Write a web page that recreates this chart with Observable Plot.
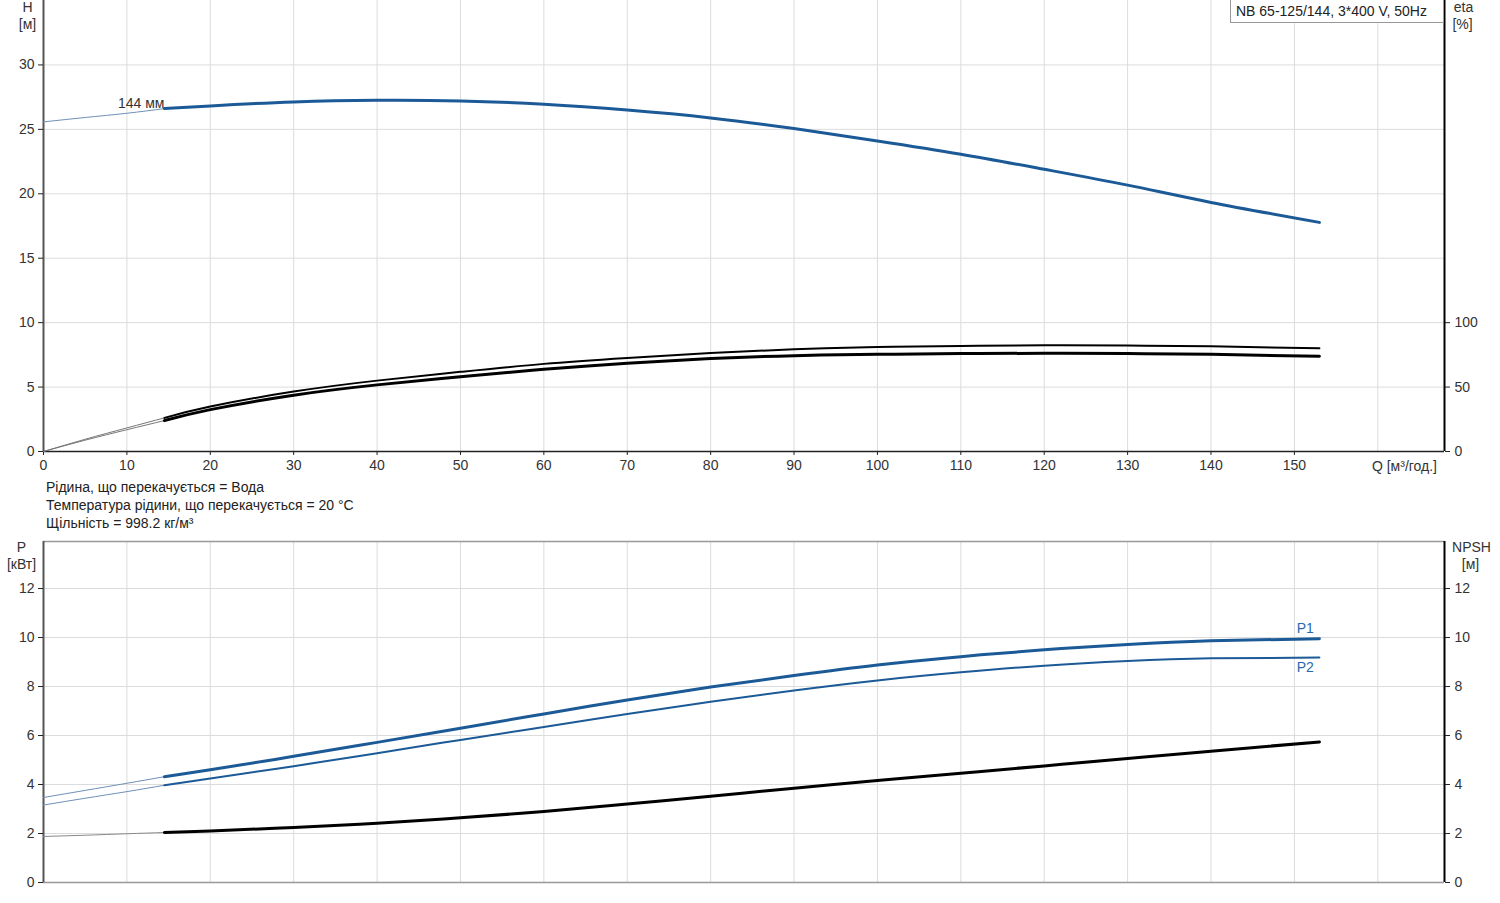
<!DOCTYPE html>
<html><head><meta charset="utf-8">
<script src="https://cdn.jsdelivr.net/npm/d3@7"></script>
<script src="https://cdn.jsdelivr.net/npm/@observablehq/plot@0.6"></script>
<style>
body{margin:0;background:#fff;font-family:"Liberation Sans",Arial,sans-serif;}
#wrap{position:relative;width:1500px;height:903px;overflow:hidden;}
#wrap svg{display:block;}
#info{height:57px;padding-left:46px;font-size:14px;line-height:18px;color:#222;}
#title{position:absolute;left:1230px;top:-1px;width:207px;height:22px;border:1px solid #999;background:#fff;font-size:14px;line-height:22px;padding-left:5px;color:#222;white-space:nowrap;}
</style></head><body><div id="wrap"></div>
<script>
// ---- data ----
const qThin = [0, 5, 10, 14.5];
const qThick = [14.5, 20, 30, 40, 50, 60, 70, 80, 90, 100, 110, 120, 130, 140, 153];
const hThin = [25.58, 25.92, 26.25, 26.61];
const hThick = [26.61, 26.82, 27.13, 27.26, 27.21, 26.95, 26.5, 25.89, 25.06, 24.1, 23.07, 21.9, 20.67, 19.33, 17.78];
const etaPumpThin = [0, 9.5, 18.3, 26.1];
const etaPumpThick = [26.1, 34.9, 46.5, 55, 61.8, 68, 72.6, 76.5, 79.3, 81.1, 81.9, 82.4, 82.2, 81.6, 80.1];
const etaTotalThin = [0, 8.8, 16.9, 24.0];
const etaTotalThick = [24.0, 32.5, 43.7, 51.7, 58.1, 63.8, 68.5, 72.1, 74.4, 75.4, 76, 76.2, 76, 75.4, 73.9];
const p1Thin = [3.47, 3.76, 4.05, 4.32];
const p1Thick = [4.32, 4.6, 5.15, 5.72, 6.3, 6.88, 7.45, 7.98, 8.45, 8.88, 9.22, 9.5, 9.72, 9.87, 9.95];
const p2Thin = [3.16, 3.44, 3.71, 3.97];
const p2Thick = [3.97, 4.25, 4.75, 5.28, 5.82, 6.35, 6.88, 7.38, 7.84, 8.25, 8.58, 8.85, 9.04, 9.15, 9.18];
const npshThin = [1.88, 1.93, 1.99, 2.04];
const npshThick = [2.04, 2.1, 2.25, 2.42, 2.64, 2.9, 3.2, 3.52, 3.85, 4.16, 4.46, 4.76, 5.06, 5.36, 5.74];
const xTicks = [0, 10, 20, 30, 40, 50, 60, 70, 80, 90, 100, 110, 120, 130, 140, 150];
const xGrid = [0, 10, 20, 30, 40, 50, 60, 70, 80, 90, 100, 110, 120, 130, 140, 150, 160];
const hTicks = [0, 5, 10, 15, 20, 25, 30];
const etaTicks = [0, 50, 100];
const pTicks = [0, 2, 4, 6, 8, 10, 12];
const xLabel = "Q [м³/год.]";
const curveLabel = "144 мм";
const titleText = "NB 65-125/144, 3*400 V, 50Hz";
const infoLines = ["Рідина, що перекачується = Вода", "Температура рідини, що перекачується = 20 °C", "Щільність = 998.2 кг/м³"];

const pts = (xs, ys) => xs.map((x, i) => ({x, y: ys[i]}));
const BLUE = "#1b5a96";
const font = {fontFamily: '"Liberation Sans", Arial, sans-serif', fontSize: "14px", color: "#333", background: "transparent", overflow: "visible"};
const X = [0, 168];

const topPlot = Plot.plot({
  width: 1500, height: 478, marginLeft: 43, marginRight: 56, marginTop: 0, marginBottom: 27,
  style: font,
  x: {domain: X, label: null}, y: {domain: [0, 35], label: null},
  marks: [
    Plot.gridX(xGrid, {stroke: "#dcdcdc", strokeOpacity: 1}),
    Plot.gridY(hTicks, {stroke: "#dcdcdc", strokeOpacity: 1}),
    Plot.ruleX([0], {stroke: "#555", strokeWidth: 2}),
    Plot.ruleX([168], {stroke: "#000", strokeWidth: 2}),
    Plot.ruleY([0], {stroke: "#222", strokeWidth: 1.5}),
    Plot.axisX(xTicks, {tickSize: 4, tickPadding: 5, stroke: "#222", label: null}),
    Plot.axisY(hTicks, {anchor: "left", tickSize: 5, tickPadding: 4, stroke: "#222", label: null}),
    Plot.axisY(etaTicks.map(d => d / 10), {anchor: "right", tickSize: 5, tickPadding: 5, stroke: "#222", tickFormat: d => Math.round(d * 10), label: null}),
    Plot.text([xLabel], {x: 163.2, frameAnchor: "bottom", dy: 15, textAnchor: "middle", lineAnchor: "middle", fill: "#333"}),
    Plot.text(["H"], {frameAnchor: "top-left", dx: -16, dy: 7, textAnchor: "middle", lineAnchor: "middle", fill: "#333"}),
    Plot.text(["[м]"], {frameAnchor: "top-left", dx: -16, dy: 24, textAnchor: "middle", lineAnchor: "middle", fill: "#333"}),
    Plot.text(["eta"], {frameAnchor: "top-right", dx: 19, dy: 7, textAnchor: "middle", lineAnchor: "middle", fill: "#333"}),
    Plot.text(["[%]"], {frameAnchor: "top-right", dx: 18, dy: 24, textAnchor: "middle", lineAnchor: "middle", fill: "#333"}),
    // H curve
    Plot.line(pts(qThin, hThin), {x: "x", y: "y", stroke: "#6f90b8", strokeWidth: 1, curve: "natural"}),
    Plot.line(pts(qThick, hThick), {x: "x", y: "y", stroke: BLUE, strokeWidth: 3, curve: "natural"}),
    Plot.text([{x: qThick[0], y: hThick[0]}], {x: "x", y: "y", text: () => curveLabel, textAnchor: "end", lineAnchor: "bottom", dx: 0, dy: -1, fill: "#333"}),
    // eta curves (scaled to H axis: eta/10)
    Plot.line(pts(qThin, etaPumpThin.map(d => d / 10)), {x: "x", y: "y", stroke: "#777", strokeWidth: 1, curve: "natural"}),
    Plot.line(pts(qThin, etaTotalThin.map(d => d / 10)), {x: "x", y: "y", stroke: "#777", strokeWidth: 1, curve: "natural"}),
    Plot.line(pts(qThick, etaPumpThick.map(d => d / 10)), {x: "x", y: "y", stroke: "#000", strokeWidth: 2, curve: "natural"}),
    Plot.line(pts(qThick, etaTotalThick.map(d => d / 10)), {x: "x", y: "y", stroke: "#000", strokeWidth: 3, curve: "natural"})
  ]
});

const PTOP = 13.92;
const bottomPlot = Plot.plot({
  width: 1500, height: 368, marginLeft: 43, marginRight: 56, marginTop: 6, marginBottom: 21,
  style: font,
  x: {domain: X, axis: null}, y: {domain: [0, PTOP], label: null},
  marks: [
    Plot.gridX(xGrid, {stroke: "#dcdcdc", strokeOpacity: 1}),
    Plot.gridY(pTicks, {stroke: "#dcdcdc", strokeOpacity: 1}),
    Plot.ruleY([PTOP], {stroke: "#999", strokeWidth: 1.5}),
    Plot.ruleY([0], {stroke: "#999", strokeWidth: 1.5}),
    Plot.ruleX([0], {stroke: "#555", strokeWidth: 2}),
    Plot.ruleX([168], {stroke: "#000", strokeWidth: 2}),
    Plot.axisY(pTicks, {anchor: "left", tickSize: 5, tickPadding: 4, stroke: "#222", label: null}),
    Plot.axisY(pTicks, {anchor: "right", tickSize: 5, tickPadding: 5, stroke: "#222", label: null}),
    Plot.text(["P"], {frameAnchor: "top-left", dx: -22, dy: 6, textAnchor: "middle", lineAnchor: "middle", fill: "#333"}),
    Plot.text(["[кВт]"], {frameAnchor: "top-left", dx: -22, dy: 23, textAnchor: "middle", lineAnchor: "middle", fill: "#333"}),
    Plot.text(["NPSH"], {frameAnchor: "top-right", dx: 27, dy: 6, textAnchor: "middle", lineAnchor: "middle", fill: "#333"}),
    Plot.text(["[м]"], {frameAnchor: "top-right", dx: 26, dy: 23, textAnchor: "middle", lineAnchor: "middle", fill: "#333"}),
    Plot.line(pts(qThin, p1Thin), {x: "x", y: "y", stroke: "#6f90b8", strokeWidth: 1, curve: "natural"}),
    Plot.line(pts(qThin, p2Thin), {x: "x", y: "y", stroke: "#6f90b8", strokeWidth: 1, curve: "natural"}),
    Plot.line(pts(qThin, npshThin), {x: "x", y: "y", stroke: "#888", strokeWidth: 1, curve: "natural"}),
    Plot.line(pts(qThick, p1Thick), {x: "x", y: "y", stroke: BLUE, strokeWidth: 3, curve: "natural"}),
    Plot.line(pts(qThick, p2Thick), {x: "x", y: "y", stroke: BLUE, strokeWidth: 2, curve: "natural"}),
    Plot.line(pts(qThick, npshThick), {x: "x", y: "y", stroke: "#000", strokeWidth: 3, curve: "natural"}),
    Plot.text([{x: 151.3, y: p1Thick[p1Thick.length - 1], t: "P1"}], {x: "x", y: "y", text: "t", dy: -10, textAnchor: "middle", lineAnchor: "middle", fill: "#2a6aaa"}),
    Plot.text([{x: 151.3, y: p2Thick[p2Thick.length - 1], t: "P2"}], {x: "x", y: "y", text: "t", dy: 10, textAnchor: "middle", lineAnchor: "middle", fill: "#2a6aaa"})
  ]
});

const wrap = document.getElementById("wrap");
wrap.appendChild(topPlot);
const info = document.createElement("div");
info.id = "info";
info.innerHTML = infoLines.map(s => `<div>${s}</div>`).join("");
wrap.appendChild(info);
wrap.appendChild(bottomPlot);
const title = document.createElement("div");
title.id = "title";
title.textContent = titleText;
wrap.appendChild(title);
</script></body></html>
